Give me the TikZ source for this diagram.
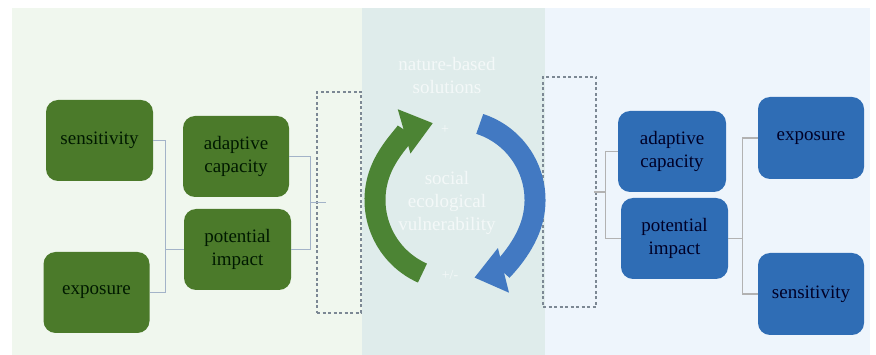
\documentclass[tikz,border=0pt]{standalone}
\usepackage{fontspec}
\setmainfont{Liberation Serif}
\usepackage{tikz}
\usetikzlibrary{arrows.meta,calc}
\definecolor{leftbg}{HTML}{F0F7EE}
\definecolor{midbg}{HTML}{DFECEB}
\definecolor{rightbg}{HTML}{EEF5FC}
\definecolor{boxgreen}{HTML}{4B7A2A}
\definecolor{boxblue}{HTML}{2F6DB5}
\definecolor{arrgreen}{HTML}{4C8434}
\definecolor{arrblue}{HTML}{4279C2}
\definecolor{linkgray}{HTML}{A3B3C8}
\definecolor{dashgray}{HTML}{7C8894}

\begin{document}
\begin{tikzpicture}[x=1pt,y=1pt,
  box/.style={rounded corners=12pt,minimum width=106pt,minimum height=81pt,align=center,
    font=\fontsize{19}{23}\selectfont,inner sep=2pt},
  gbox/.style={box,fill=boxgreen,text=black!90!green},
  bbox/.style={box,fill=boxblue,text=black!85!blue},
  dashbox/.style={draw=dashgray,line width=1.3pt,dash pattern=on 3pt off 2.5pt,minimum width=#1},
  link/.style={draw=linkgray,line width=1.2pt},
  wtext/.style={text=white,text opacity=0.65,align=center,font=\fontsize{19}{23}\selectfont}]
  \useasboundingbox (0,0) rectangle (876,-355);
  \fill[white] (0,0) rectangle (876,-355);
  \fill[leftbg] (12,-8) rectangle (362,-355);
  \fill[midbg] (362,-8) rectangle (545,-355);
  \fill[rightbg] (545,-8) rectangle (870,-355);
  % left side
  \node[gbox,minimum width=107pt] (sensL) at (99.5,-140.5) {sensitivity};
  \node[gbox] (expoL) at (96.5,-292.5) {exposure};
  \node[gbox] (adapL) at (236,-156.5) {adaptive\\capacity};
  \node[gbox,minimum width=107pt] (potL) at (237.5,-249.5) {potential\\impact};
  \node[dashbox=44pt,minimum height=221pt] (dashL) at (339,-202.5) {};
  \draw[link] (sensL.east) -- ++(12,0) coordinate (brkA) |- (expoL.east);
  \draw[link] (brkA |- potL.west) -- (potL.west);
  \draw[link] (adapL.east) -- ++(21,0) coordinate (brkB) |- (potL.east);
  \draw[link] (brkB |- dashL.west) -- ([xshift=10pt]dashL.west);
  % right side
  \node[bbox,minimum width=108pt] (adapR) at (672,-151.5) {adaptive\\capacity};
  \node[bbox,minimum width=107pt] (potR) at (674.5,-238.5) {potential\\impact};
  \node[bbox,minimum height=82pt] (expoR) at (811,-138) {exposure};
  \node[bbox,minimum height=82pt] (sensR) at (811,-294) {sensitivity};
  \node[dashbox=53pt,minimum height=230pt] (dashR) at (569.5,-192) {};
  \draw[link,draw=gray!60] (adapR.west) -- ++(-12,0) coordinate (brkC) |- (potR.west);
  \draw[link,draw=gray!60] (brkC |- dashR.east) -- ([xshift=-3pt]dashR.east);
  \draw[link,draw=gray!60] (expoR.west) -- ++(-15,0) coordinate (brkD) |- (sensR.west);
  \draw[link,draw=gray!60] (brkD |- potR.east) -- (potR.east);
  % cycle in the middle
  \coordinate (cyc) at (455,-200);
  \draw[arrgreen,line width=21pt,-{Triangle[length=30pt,width=44pt]}]
    ($(cyc)+(246:80)$) arc[start angle=246,end angle=106,radius=80];
  \draw[arrblue,line width=21pt,-{Triangle[length=30pt,width=44pt]}]
    ($(cyc)+(72:80)$) arc[start angle=72,end angle=-76,radius=80];
  \node[wtext] (nbs) at (447,-76) {nature-based\\solutions};
  \node[wtext] (sev) at (447,-203) {social\\ecological\\vulnerability};
  \node[wtext,font=\fontsize{14}{16}\selectfont] (plus) at (445,-130) {+};
  \node[wtext,font=\fontsize{14}{16}\selectfont] (pm) at (450,-275) {+/-};
\end{tikzpicture}
\end{document}
